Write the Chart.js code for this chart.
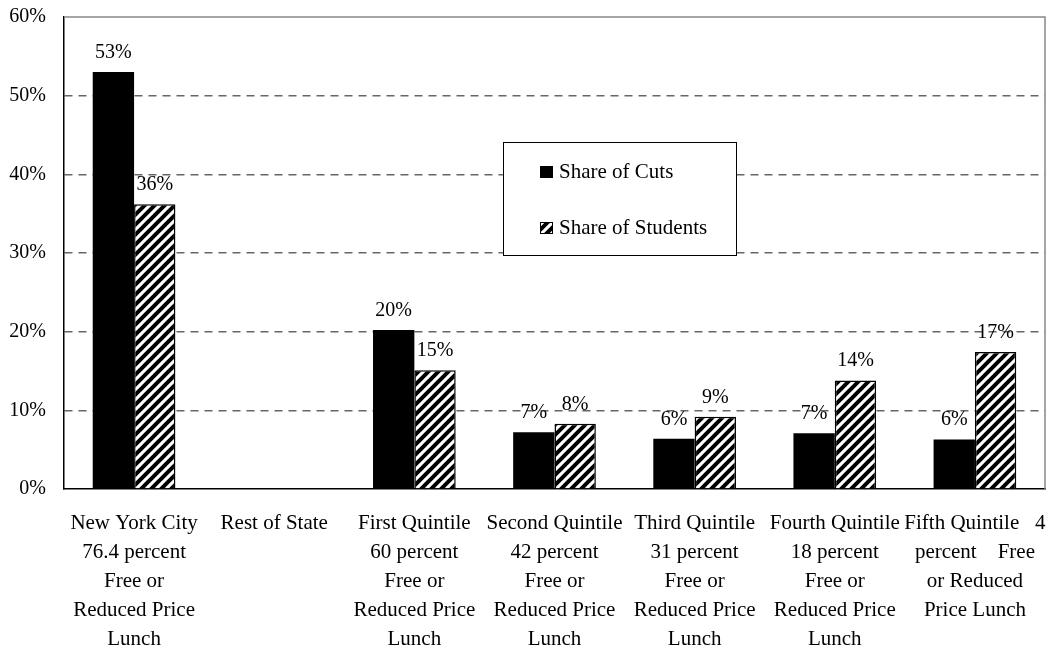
<!DOCTYPE html>
<html>
<head>
<meta charset="utf-8">
<script src="https://cdn.jsdelivr.net/npm/chart.js@4.4.0/dist/chart.umd.min.js"></script>
<style>
html, body { margin: 0; padding: 0; background: #fff; }
#wrap { width: 1046px; height: 651px; }
</style>
</head>
<body>
<div id="wrap"><canvas id="cutsChart" width="1046" height="651"></canvas></div>
<script>
// chart data
var categories = [
    ['New York City', '76.4 percent', 'Free or', 'Reduced Price', 'Lunch'],
    ['Rest of State'],
    ['First Quintile', '60 percent', 'Free or', 'Reduced Price', 'Lunch'],
    ['Second Quintile', '42 percent', 'Free or', 'Reduced Price', 'Lunch'],
    ['Third Quintile', '31 percent', 'Free or', 'Reduced Price', 'Lunch'],
    ['Fourth Quintile', '18 percent', 'Free or', 'Reduced Price', 'Lunch'],
    ['Fifth Quintile   4', 'percent    Free', 'or Reduced', 'Price Lunch']
];
var seriesNames = ['Share of Cuts', 'Share of Students'];
var shareOfCuts = [53.0, null, 20.2, 7.2, 6.4, 7.1, 6.3];
var shareOfStudents = [36.2, null, 15.1, 8.3, 9.2, 13.8, 17.4];
var yTickValues = [0, 10, 20, 30, 40, 50, 60];

var FONT = '"Liberation Serif", "Times New Roman", serif';
var canvas = document.getElementById('cutsChart');
var ctx = canvas.getContext('2d');

// diagonal hatch like the old excel fill
function makeHatch() {
    var tile = document.createElement('canvas');
    tile.width = 10;
    tile.height = 10;
    var g = tile.getContext('2d');
    g.fillStyle = '#fff';
    g.fillRect(0, 0, 10, 10);
    g.strokeStyle = '#000';
    g.lineWidth = 4;
    g.beginPath();
    g.moveTo(-5, 5); g.lineTo(5, -5);
    g.moveTo(-1, 11); g.lineTo(11, -1);
    g.moveTo(5, 15); g.lineTo(15, 5);
    g.stroke();
    return ctx.createPattern(tile, 'repeat');
}
var hatch = makeHatch();

// value labels above bars
var valueLabels = {
    id: 'valueLabels',
    afterDatasetsDraw: function (chart) {
        var c = chart.ctx;
        c.save();
        c.font = '20px ' + FONT;
        c.fillStyle = '#000';
        c.textAlign = 'center';
        c.textBaseline = 'alphabetic';
        chart.data.datasets.forEach(function (ds, di) {
            chart.getDatasetMeta(di).data.forEach(function (bar, i) {
                var v = ds.data[i];
                if (v === null) return;
                c.fillText(Math.round(v) + '%', bar.x, bar.y - 14);
            });
        });
        c.restore();
    }
};

// frame: gray top/right, black left/bottom come from the axis borders
var frame = {
    id: 'frame',
    beforeDatasetsDraw: function (chart) {
        var a = chart.chartArea;
        var c = chart.ctx;
        c.save();
        c.strokeStyle = '#888';
        c.lineWidth = 1.5;
        c.beginPath();
        c.moveTo(a.left, a.top);
        c.lineTo(a.right, a.top);
        c.lineTo(a.right, a.bottom);
        c.stroke();
        c.restore();
    }
};

// boxed legend inside the plot
var boxLegend = {
    id: 'boxLegend',
    afterDraw: function (chart) {
        var c = chart.ctx;
        c.save();
        c.fillStyle = '#fff';
        c.fillRect(503, 142, 233, 113);
        c.strokeStyle = '#000';
        c.lineWidth = 1;
        c.strokeRect(503.5, 142.5, 233, 113);
        var fills = ['#000', hatch];
        var rowY = [178, 234];
        c.font = '21px ' + FONT;
        c.textBaseline = 'alphabetic';
        c.textAlign = 'left';
        for (var i = 0; i < seriesNames.length; i++) {
            c.fillStyle = fills[i];
            c.fillRect(540, rowY[i] - 12, 13, 12);
            c.strokeStyle = '#000';
            c.strokeRect(540.5, rowY[i] - 11.5, 12, 11);
            c.fillStyle = '#000';
            c.fillText(seriesNames[i], 559, rowY[i]);
        }
        c.restore();
    }
};

var cutsChart = new Chart(ctx, {
    type: 'bar',
    data: {
        labels: categories,
        datasets: [
            {
                label: seriesNames[0],
                data: shareOfCuts,
                backgroundColor: '#000',
                borderColor: '#000',
                borderWidth: 0,
                categoryPercentage: 0.59,
                barPercentage: 1.0
            },
            {
                label: seriesNames[1],
                data: shareOfStudents,
                backgroundColor: hatch,
                borderColor: '#000',
                borderWidth: 1.5,
                categoryPercentage: 0.59,
                barPercentage: 1.0
            }
        ]
    },
    options: {
        responsive: false,
        animation: false,
        devicePixelRatio: 1,
        layout: {
            padding: { top: 17, right: 1, left: 0, bottom: 0 }
        },
        plugins: {
            legend: { display: false },
            tooltip: { enabled: false }
        },
        scales: {
            x: {
                offset: true,
                grid: { display: false, drawTicks: false },
                border: { display: true, color: '#000', width: 1.5 },
                ticks: {
                    color: '#000',
                    font: { family: FONT, size: 21, lineHeight: 1.38 },
                    maxRotation: 0,
                    autoSkip: false,
                    padding: 20
                },
                afterFit: function (scale) {
                    scale.height = 162;
                    scale.paddingLeft = 0;
                    scale.paddingRight = 0;
                }
            },
            y: {
                min: 0,
                max: 60,
                afterBuildTicks: function (scale) {
                    scale.ticks = yTickValues.map(v => ({ value: v }));
                },
                grid: {
                    drawTicks: false,
                    color: function (c) {
                        var v = c.tick ? c.tick.value : 0;
                        return (v === 0 || v === 60) ? 'rgba(0,0,0,0)' : '#666';
                    },
                    lineWidth: 1.5
                },
                border: { display: true, color: '#000', width: 1.5, dash: [8, 6] },
                ticks: {
                    color: '#000',
                    font: { family: FONT, size: 20 },
                    padding: 18,
                    callback: function (value) { return value + '%'; }
                },
                afterFit: function (scale) {
                    scale.width = 64;
                    scale.paddingTop = 0;
                    scale.paddingBottom = 0;
                }
            }
        }
    },
    plugins: [frame, valueLabels, boxLegend]
});
</script>
</body>
</html>
